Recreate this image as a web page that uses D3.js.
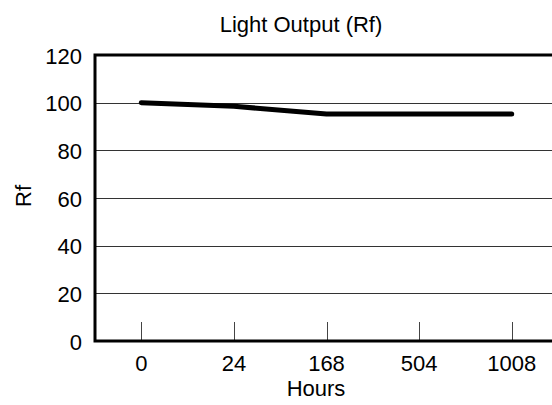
<!DOCTYPE html>
<html>
<head>
<meta charset="utf-8">
<style>
body { margin: 0; background: #fff; }
text { font-family: "Liberation Sans", Arial, sans-serif; fill: #000; }
.grid line { stroke: #333; stroke-width: 1; }
.frame { stroke: #000; stroke-width: 3; fill: none; }
</style>
<script src="https://cdn.jsdelivr.net/npm/d3@7"></script>
</head>
<body>
<div id="chart"></div>
<script>
// data
var hours = ["0", "24", "168", "504", "1008"];
var rf = [100, 98.5, 95.2, 95.2, 95.2];
var yTicks = [0, 20, 40, 60, 80, 100, 120];

var width = 552, height = 405;
var mLeft = 95, mTop = 55, mBottom = 341, mRight = 558;

var svg = d3.select("#chart").append("svg")
	.attr("width", width).attr("height", height);

var x = d3.scaleBand().domain(hours).range([mLeft, mRight]);
var y = d3.scaleLinear().domain([0, 120]).range([mBottom, mTop]);

// horizontal grid lines
svg.append("g").attr("class", "grid")
	.selectAll("line").data(yTicks.slice(1, -1)).enter().append("line")
	.attr("x1", mLeft).attr("x2", width + 10)
	.attr("y1", function(d) { return Math.round(y(d)) + 0.5; })
	.attr("y2", function(d) { return Math.round(y(d)) + 0.5; });

// x tick marks, pointing up from the baseline
svg.append("g").selectAll("line").data(hours).enter().append("line")
	.attr("x1", function(d) { return Math.round(x(d) + x.bandwidth() / 2) + 0.5; })
	.attr("x2", function(d) { return Math.round(x(d) + x.bandwidth() / 2) + 0.5; })
	.attr("y1", mBottom - 19).attr("y2", mBottom)
	.attr("stroke", "#444").attr("stroke-width", 1);

// frame: top, left, bottom
svg.append("path").attr("class", "frame")
	.attr("d", "M" + (width + 10) + "," + y(120) + "H" + mLeft + "V" + y(0) + "H" + (width + 10));

// line
var line = d3.line()
	.x(function(d, i) { return x(hours[i]) + x.bandwidth() / 2; })
	.y(function(d) { return y(d); });

svg.append("path").datum(rf)
	.attr("d", line)
	.attr("fill", "none").attr("stroke", "#000")
	.attr("stroke-width", 5).attr("stroke-linecap", "round").attr("stroke-linejoin", "round");

// y labels
svg.append("g").selectAll("text").data(yTicks).enter().append("text")
	.attr("x", mLeft - 13).attr("y", function(d) { return y(d) + 1; })
	.attr("dy", "0.35em").attr("text-anchor", "end")
	.style("font-size", "22px")
	.text(function(d) { return d; });

// x labels
svg.append("g").selectAll("text").data(hours).enter().append("text")
	.attr("x", function(d) { return x(d) + x.bandwidth() / 2; })
	.attr("y", 371).attr("text-anchor", "middle")
	.style("font-size", "22px")
	.text(function(d) { return d; });

svg.append("text").attr("x", 301).attr("y", 32)
	.attr("text-anchor", "middle").style("font-size", "22px")
	.text("Light Output (Rf)");

svg.append("text").attr("x", 316).attr("y", 396)
	.attr("text-anchor", "middle").style("font-size", "22px")
	.text("Hours");

svg.append("text")
	.attr("transform", "translate(31," + 196 + ") rotate(-90)")
	.attr("text-anchor", "middle").style("font-size", "22px")
	.text("Rf");
</script>
</body>
</html>
